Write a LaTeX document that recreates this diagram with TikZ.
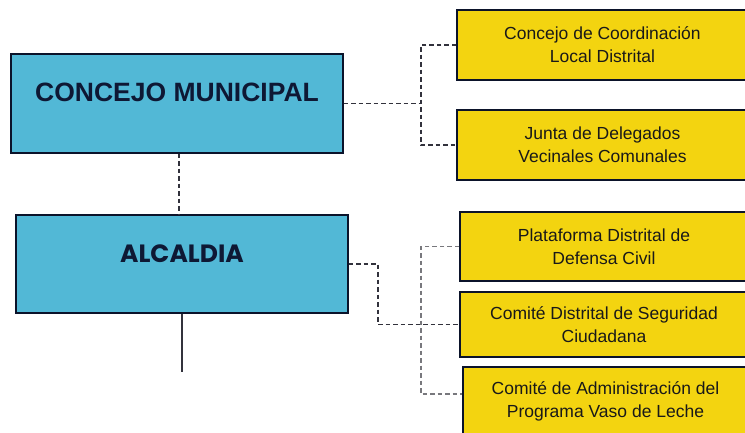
\documentclass[tikz,border=0pt]{standalone}
\usepackage{fontspec}
\setmainfont{Liberation Sans}
\newfontfamily\arialfont{Liberation Sans}
\newfontfamily\geofont{Poppins}
\definecolor{bluefill}{RGB}{82,184,214}
\definecolor{yellowfill}{RGB}{243,212,16}
\definecolor{navy}{RGB}{14,24,52}
\definecolor{linedark}{RGB}{50,50,60}
\definecolor{linelight}{RGB}{120,120,125}
\begin{document}
\begin{tikzpicture}[x=1pt,y=-1pt,
  bluebox/.style={draw=navy!80!black,line width=1.2pt,fill=bluefill,inner sep=0pt},
  yellowbox/.style={draw=navy!80!black,line width=1.2pt,fill=yellowfill,inner sep=0pt,
     align=center,text=black!90,font=\fontsize{17.5}{23}\arialfont},
  dl/.style={linedark,line width=1.3pt,dash pattern=on 4.5pt off 3pt},
  dlight/.style={linelight,line width=1.2pt,dash pattern=on 4.5pt off 3pt},
  solidline/.style={linedark,line width=1.2pt}]
\useasboundingbox (0,0) rectangle (745,433);
% main boxes
\node[bluebox,minimum width=332pt,minimum height=99pt,
  label={[yshift=11pt,text=navy,font=\fontsize{26.5}{30}\arialfont\bfseries]center:CONCEJO MUNICIPAL}]
  (cm) at (177,103.5) {};
\node[bluebox,minimum width=332pt,minimum height=98pt,
  label={[yshift=10pt,text=navy,font=\fontsize{25}{30}\geofont\bfseries]center:ALCALDIA}]
  (al) at (182,264) {};
% yellow boxes
\node[yellowbox,minimum width=291pt,minimum height=70pt] (y1) at (602.5,45)
  {Concejo de Coordinación\\Local Distrital};
\node[yellowbox,minimum width=291pt,minimum height=70pt] (y2) at (602.5,145)
  {Junta de Delegados\\Vecinales Comunales};
\node[yellowbox,minimum width=288pt,minimum height=69pt] (y3) at (604,246.5)
  {Plataforma Distrital de\\Defensa Civil};
\node[yellowbox,minimum width=288pt,minimum height=65pt] (y4) at (604,324.5)
  {Comité Distrital de Seguridad\\Ciudadana};
\node[yellowbox,minimum width=285pt,minimum height=70pt,text depth=4pt] (y5) at (605.5,402)
  {Comité de Administración del\\Programa Vaso de Leche};
% connectors
\coordinate (b1) at (421,103.5);
\coordinate (b2) at (378,264);
\coordinate (b3) at (421,300);
\coordinate (alend) at (182,372);
\draw[dl] ([xshift=2pt]cm.south) -- ([xshift=2pt]cm.south |- al.north);
\draw[solidline] (al.south) -- (alend);
\draw[dl] (cm.east) -- (b1);
\draw[dl] (y1.west) -| (b1) |- (y2.west);
\draw[dlight] (y3.west) -| (b3) |- ([yshift=8pt]y5.west);
\draw[dl] (al.east) -- (b2) |- (y4.west);
\end{tikzpicture}
\end{document}
